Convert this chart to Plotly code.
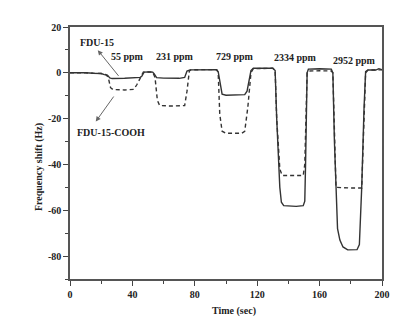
import plotly.graph_objects as go

# Frequency response of the two sensors to stepped analyte exposures
time_fdu = [0, 5, 10, 15, 20, 22, 24, 25.5, 27, 35, 45, 46, 47.5, 50, 53, 54, 55.5, 60, 70,
            73.5, 75, 77, 85, 94, 95, 97.5, 100, 105, 112, 113.5, 116, 117.5, 125, 130,
            131.5, 132.5, 134.5, 135.5, 137, 145, 149.5, 150.5, 151, 152, 152.8, 160,
            167.5, 168.5, 169.5, 171.5, 173, 175, 178, 184, 185.5, 187, 188.5, 189.5,
            191, 196, 198, 200]
shift_fdu = [0, 0.1, 0.0, -0.2, -0.3, -0.8, -1.0, -2.2, -2.5, -2.4, -2.0, -1.5, 0.3, 0.4,
             0.3, -0.5, -2.1, -2.3, -2.4, -2.0, 0.8, 1.3, 1.4, 1.4, 0.5, -9.3, -9.8, -9.8,
             -9.5, -8.0, 1.0, 2.0, 2.1, 2.0, 1.0, -20, -50, -56.5, -58, -58.3, -58.0, -56,
             -40, 0, 1.6, 1.8, 1.6, 0, -30, -68, -73, -76, -77.3, -77.2, -75, -50, -15,
             0.5, 1.3, 1.2, 1.8, 1.4]

time_cooh = [0, 5, 10, 15, 20, 23, 24.5, 26, 27.5, 35, 41, 43, 45, 47, 50, 53, 54.5, 56,
             57.5, 65, 73.5, 75, 76.5, 77.5, 85, 94, 95, 96, 97.5, 100, 110, 112, 114, 116,
             117.5, 125, 130, 131.5, 132.5, 134.5, 136, 149.5, 150.5, 152, 153, 160,
             167.5, 168.5, 169.5, 170.5, 180, 187, 188, 189.5, 191, 200]
shift_cooh = [0, 0.1, 0.0, -0.2, -0.3, -0.8, -2.0, -6.5, -7.3, -7.5, -7.2, -5.0, -2.0, 0.3,
              0.4, 0.3, -2.0, -12, -14.3, -14.5, -14.3, -8.0, 0.8, 1.3, 1.4, 1.4, 0, -18,
              -25.5, -26.4, -26.4, -25.5, -15, 0, 1.8, 2.0, 2.0, 1.0, -20, -42, -44.8,
              -44.8, -40, 0, 0.8, 0.9, 0.8, 0, -30, -50, -50.3, -50.3, -30, 0, 1.2, 1.3]

conc_labels = ["55 ppm", "231 ppm", "729 ppm", "2334 ppm", "2952 ppm"]
conc_x = [36.9, 67.0, 105.9, 144.5, 182.6]
conc_y = [7.3, 7.0, 7.0, 6.8, 5.5]

x_ticks = [0, 40, 80, 120, 160, 200]
x_tick_text = ["0", "40", "80", "120", "160", "200"]
y_ticks = [-80, -60, -40, -20, 0, 20]
y_tick_text = ["-80", "-60", "-40", "-20", "0", "20"]

FONT = "Liberation Serif, Times New Roman, serif"
LINE = "#333333"
TEXT = "#222222"

fig = go.Figure()
fig.add_trace(go.Scatter(x=time_fdu, y=shift_fdu, mode="lines", name="FDU-15",
                         line=dict(color=LINE, width=1.4)))
fig.add_trace(go.Scatter(x=time_cooh, y=shift_cooh, mode="lines", name="FDU-15-COOH",
                         line=dict(color=LINE, width=1.4, dash="4px,3px")))

axis_common = dict(
    showgrid=False, zeroline=False, showline=True, linecolor="#555555", linewidth=1.5,
    mirror=True, ticks="outside", ticklen=5, tickwidth=1.2, tickcolor="#444444",
    tickfont=dict(family=FONT, size=10, color=TEXT, weight="bold"),
)
fig.update_xaxes(range=[0, 200], tickvals=x_ticks, ticktext=x_tick_text,
                 minor=dict(dtick=20, tick0=0, ticks="outside", ticklen=3, tickcolor="#444444"),
                 **axis_common)
fig.update_yaxes(range=[-90, 20], tickvals=y_ticks, ticktext=y_tick_text,
                 minor=dict(dtick=10, tick0=0, ticks="outside", ticklen=3, tickcolor="#444444"),
                 **axis_common)

bold = dict(family=FONT, size=10, color=TEXT, weight="bold")

annotations = []
for lab, cx, cy in zip(conc_labels, conc_x, conc_y):
    annotations.append(dict(x=cx, y=cy, xref="x", yref="y", text=lab, showarrow=False,
                            font=bold))

# series labels with pointer lines
annotations += [
    dict(x=17.5, y=13.4, xref="x", yref="y", text="FDU-15", showarrow=False, font=bold),
    dict(x=26.0, y=-25.9, xref="x", yref="y", text="FDU-15-COOH", showarrow=False,
         font=bold),
    dict(x=17.8, y=9.9, xref="x", yref="y", ax=31.9, ay=-2.0, axref="x", ayref="y",
         text="", showarrow=True, arrowhead=2, arrowsize=1, arrowwidth=1,
         arrowcolor="#666666"),
    dict(x=16.5, y=-21.3, xref="x", yref="y", ax=28.7, ay=-9.7, axref="x", ayref="y",
         text="", showarrow=True, arrowhead=2, arrowsize=1, arrowwidth=1,
         arrowcolor="#666666"),
    # axis titles
    dict(x=0.525, y=-0.126, xref="paper", yref="paper", xanchor="center", yanchor="middle",
         text="Time (sec)", showarrow=False, font=bold),
    dict(x=-0.101, y=0.446, xref="paper", yref="paper", xanchor="center", yanchor="middle",
         text="Frequency shift (Hz)", showarrow=False, textangle=-90, font=bold),
]

fig.update_layout(
    width=409, height=323,
    margin=dict(l=70, r=27, t=27, b=44),
    paper_bgcolor="white", plot_bgcolor="white",
    showlegend=False,
    annotations=annotations,
)

fig.write_html("out.html")
